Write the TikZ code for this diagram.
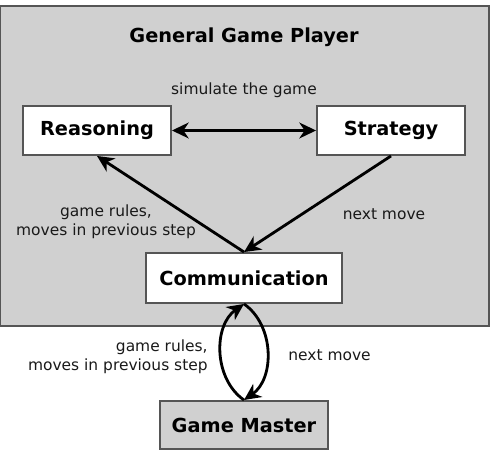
\documentclass[tikz,border=0pt]{standalone}
\usepackage{fontspec}
\setmainfont{DejaVu Sans}
\usepackage{xcolor}
\usetikzlibrary{arrows.meta,positioning}
\definecolor{panelgray}{HTML}{D0D0D0}
\definecolor{edgegray}{HTML}{555555}
\tikzset{
  panel/.style={rectangle, draw=edgegray, line width=1.1pt, fill=panelgray,
                minimum width=9.78cm, minimum height=6.4cm, inner sep=0pt},
  unit/.style={rectangle, draw=edgegray, line width=1.1pt, fill=white, align=center,
               font=\fontsize{11}{13}\selectfont\bfseries, inner sep=0pt},
  master/.style={unit, fill=panelgray},
  ttl/.style={font=\fontsize{11}{13}\selectfont\bfseries, inner sep=0pt},
  fl/.style={-{Stealth[length=9.5pt,width=9pt,inset=3pt]}, line width=1.6pt},
  bi/.style={{Stealth[length=9.5pt,width=9pt,inset=3pt]}-{Stealth[length=9.5pt,width=9pt,inset=3pt]}, line width=1.6pt},
  lbl/.style={font=\fontsize{8.8}{11}\selectfont, text=black!90, inner sep=0pt},
}
\begin{document}
\begin{tikzpicture}[x=0.02cm,y=-0.02cm]
\useasboundingbox (0,0) rectangle (496,455);
\node[panel] (ggp) at (244.5,166) {};
\node[ttl] (title) at (244,37) {General Game Player};
\node[unit, minimum width=2.96cm, minimum height=0.98cm] (rea) at (97,130.5) {Reasoning};
\node[unit, minimum width=2.96cm, minimum height=0.98cm] (str) at (391,130.5) {Strategy};
\node[unit, minimum width=3.92cm, minimum height=1.0cm] (comm) at (244,278) {Communication};
\node[master, minimum width=3.36cm, minimum height=0.96cm] (gm) at (244,425) {Game Master};
\node[lbl] (sim) at (244,90) {simulate the game};
\node[lbl, align=center] (rules1) at (106,222) {game rules,\\moves in previous step};
\node[lbl] (next1) at (384,214) {next move};
\node[lbl, align=right, anchor=east] (rules2) at (208,357) {game rules,\\moves in previous step};
\node[lbl, anchor=west] (next2) at (288,355) {next move};
\draw[bi] (rea) -- (str);
\draw[fl] (comm.north) -- (rea.south);
\draw[fl] (str.south) -- (comm.north);
\draw[fl] (gm.north) to[bend left=55] (comm.south);
\draw[fl] (comm.south) to[bend left=55] (gm.north);
\end{tikzpicture}
\end{document}
